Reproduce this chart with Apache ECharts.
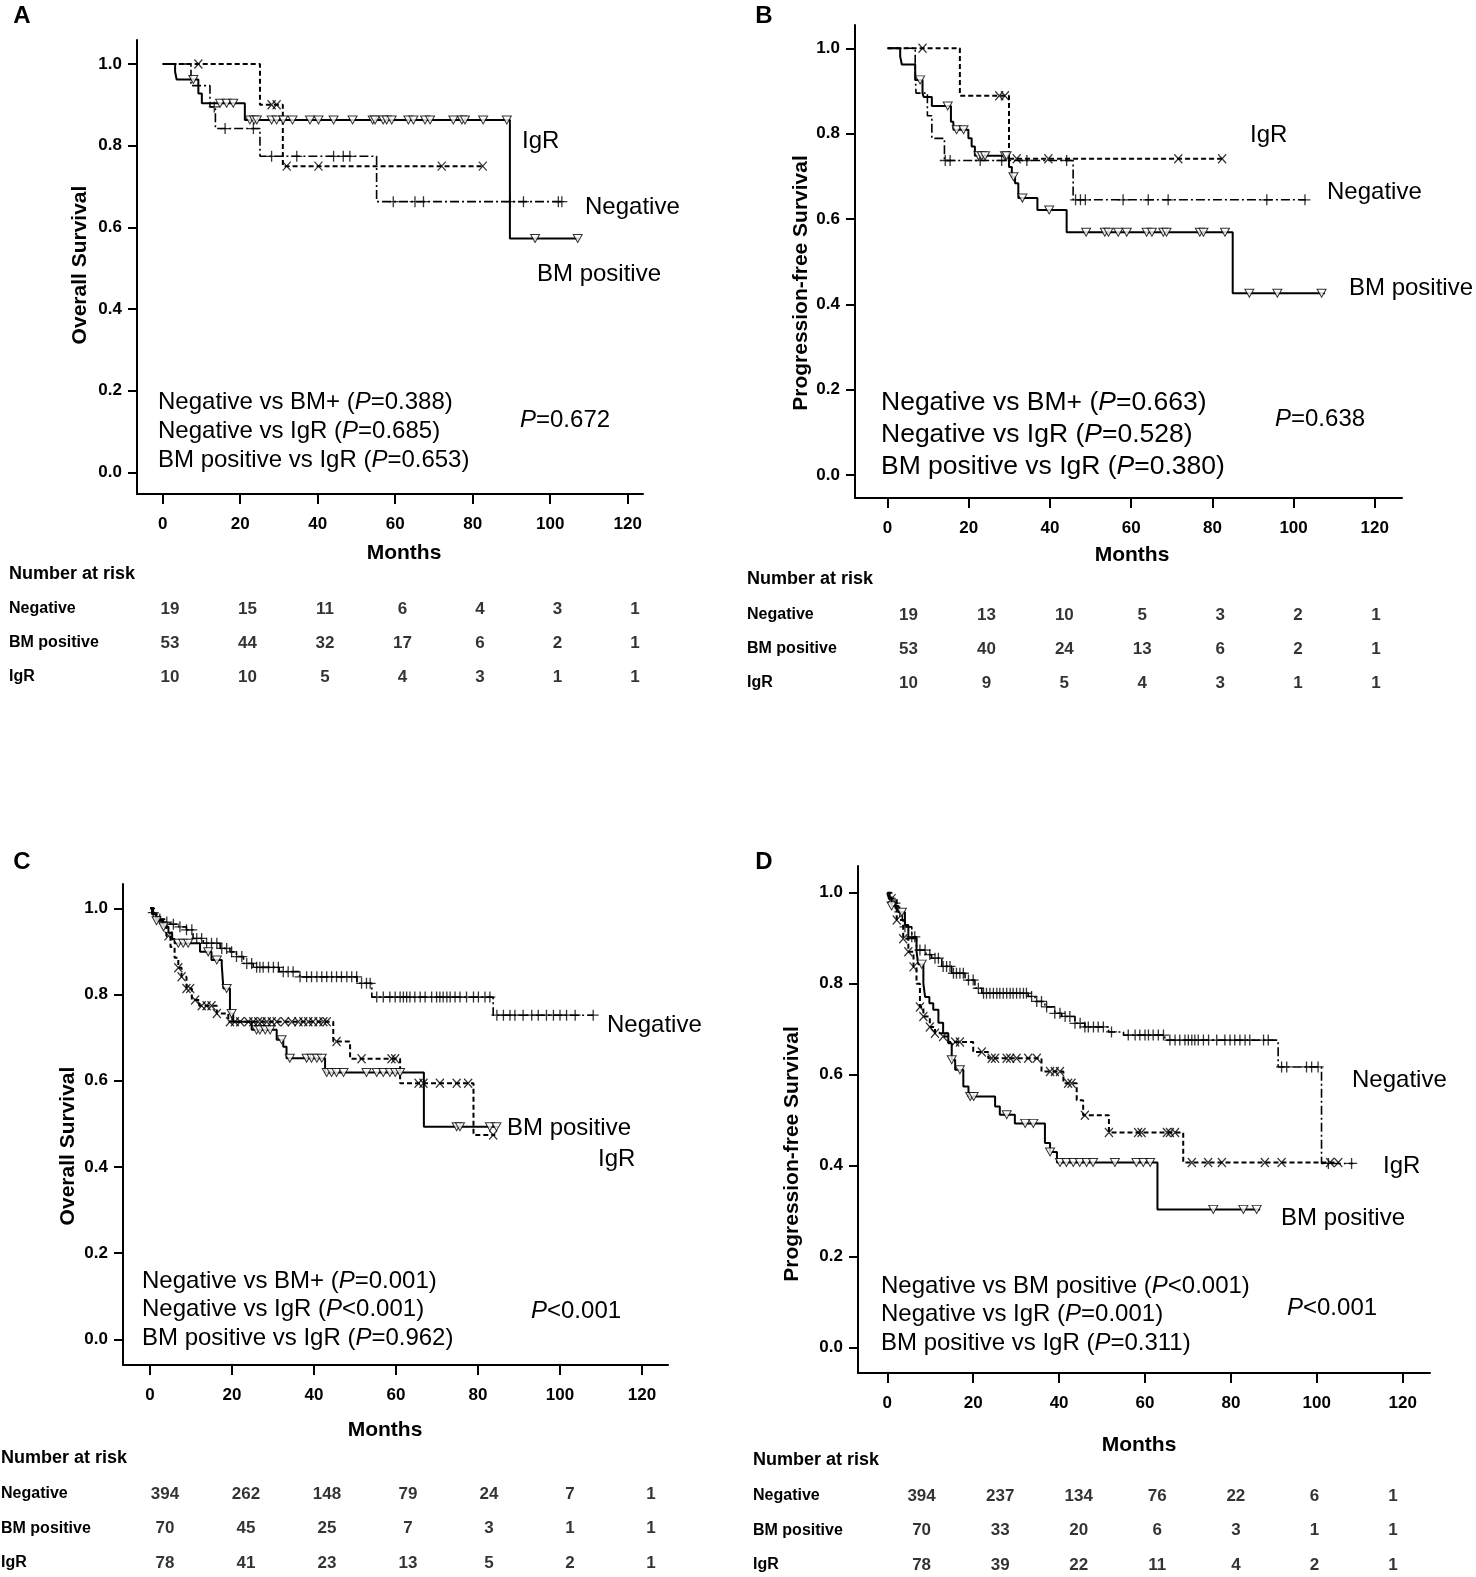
<!DOCTYPE html>
<html><head><meta charset="utf-8">
<script src="https://cdn.jsdelivr.net/npm/echarts@6/dist/echarts.min.js"></script>
<style>html,body{margin:0;padding:0;background:#fff}#c{width:1476px;height:1577px}</style>
</head><body><div id="c"></div>
<script>
// ---------------- DATA ----------------
const GROUPS = ['Negative', 'BM positive', 'IgR'];
const X_TICKS = [0, 20, 40, 60, 80, 100, 120];
const Y_TICKS = [0, 0.2, 0.4, 0.6, 0.8, 1.0];

// Panel A - overall survival (small cohort)
const A_neg_steps = [[0,1],[7.3,0.947],[12.2,0.895],[13.6,0.842],[25.1,0.774],[55.2,0.663],[103,0.663]];
const A_neg_cens = [13.3,16.1,23.4,28.1,34.6,44.1,46.6,48.3,59.5,65.1,67.3,89.6,93.1,102.1,103];
const A_bm_steps = [[0,1],[3.2,0.981],[3.6,0.962],[9.2,0.928],[10.1,0.904],[21.2,0.863],[89.6,0.573],[107.4,0.573]];
const A_bm_cens = [7.9,14.8,16.5,18.2,22.5,23.6,24.3,28.1,29.4,31.1,33.5,38,40.2,44.1,49,54.2,54.8,56.9,57.8,59.1,63.4,64.7,67.7,69,75,77.2,78,82.7,88.8,96.1,107.1];
const A_igr_steps = [[0,1],[25.1,0.9],[31,0.75],[82.8,0.75]];
const A_igr_cens = [9.2,28.1,29.4,32,40.2,72,82.6];
const A_risk_neg = [19,15,11,6,4,3,1];
const A_risk_bm = [53,44,32,17,6,2,1];
const A_risk_igr = [10,10,5,4,3,1,1];
const A_p_texts = ['Negative vs BM+ ({i|P}=0.388)','Negative vs IgR ({i|P}=0.685)','BM positive vs IgR ({i|P}=0.653)'];
const A_p_all = '{i|P}=0.672';

// Panel B - progression-free survival (small cohort)
const B_neg_steps = [[0,1],[6.8,0.947],[7,0.895],[9.8,0.842],[10.9,0.789],[14,0.737],[45.7,0.645],[103,0.645]];
const B_neg_cens = [14.2,15.4,22.8,28.1,34.3,44.1,46.3,47.5,48.7,58,64.2,69.1,93.4,102.8];
const B_bm_steps = [[0,1],[3.1,0.981],[3.5,0.962],[6.8,0.926],[8.6,0.894],[8.9,0.886],[10.9,0.865],[15.6,0.828],[16.2,0.809],[19.9,0.789],[20.7,0.77],[21.5,0.748],[29.9,0.722],[30.6,0.699],[31.4,0.684],[32.2,0.649],[36.9,0.621],[44.1,0.569],[85,0.426],[107.7,0.426]];
const B_bm_cens = [8,14.8,17,18.7,22.4,23.2,24,28.9,29.3,31,33.2,39.8,48.9,53.5,54.4,56.8,58.9,63.8,65.1,67.9,68.7,76.9,77.8,83.1,89.1,96,106.9];
const B_igr_steps = [[0,1],[17.8,0.889],[29.9,0.741],[83.1,0.741]];
const B_igr_cens = [8.6,27.5,28.9,31.8,39.6,71.6,82.4];
const B_risk_neg = [19,13,10,5,3,2,1];
const B_risk_bm = [53,40,24,13,6,2,1];
const B_risk_igr = [10,9,5,4,3,1,1];
const B_p_texts = ['Negative vs BM+ ({i|P}=0.663)','Negative vs IgR ({i|P}=0.528)','BM positive vs IgR ({i|P}=0.380)'];
const B_p_all = '{i|P}=0.638';

// Panel C - overall survival (large cohort)
const C_neg_steps = [[0,1],[0.8,0.99],[1.6,0.982],[2.4,0.975],[3.5,0.968],[4.9,0.963],[7,0.957],[8.9,0.95],[10.5,0.93],[13,0.919],[17.1,0.907],[19.5,0.899],[21.1,0.888],[22.8,0.872],[25.2,0.863],[31.5,0.853],[36.5,0.841],[50.5,0.826],[54.1,0.794],[83.7,0.752],[108.1,0.752]];
const C_neg_cens = [0.8,2.4,4.1,5.7,7.3,8.9,10.2,11.4,12.6,13.8,15,16.3,17.5,18.7,19.9,21.1,22.4,23.6,24.8,26,26.8,27.6,28.9,30.1,31.3,32.5,33.7,34.9,36.6,38.2,39.4,40.7,41.9,43.1,44.3,45.5,46.7,48,49.2,50.4,51.6,52.8,53.7,55.3,56.9,58.5,59.8,61,61.8,62.6,63.4,64.6,65.9,67.1,68.7,69.9,70.7,71.5,72.4,73.2,74.4,75.6,77.2,78.9,80.1,81.7,82.9,84.6,86.2,87.8,89,91,93.1,94.7,96.7,98.4,100,101.6,103.7,108.1];
const C_bm_steps = [[0,1],[0.5,0.986],[1.5,0.971],[3.3,0.957],[4.5,0.943],[5.4,0.929],[6,0.919],[12.2,0.899],[15,0.88],[17.5,0.868],[17.9,0.814],[19.5,0.756],[20.3,0.737],[24.8,0.718],[30.9,0.695],[32.5,0.679],[33.3,0.652],[42.7,0.619],[66.8,0.493],[84.9,0.493]];
const C_bm_cens = [1.6,3.3,6.9,8.1,9.3,14.2,16.3,18.7,19.9,26,26.8,28.1,29.3,32.1,34.1,38.2,39.4,40.7,41.9,43.1,44.3,45.5,47.2,52.8,55.3,56.9,58.5,59.8,61,74.8,75.6,82.9,84.5];
const C_igr_steps = [[0,1],[1,0.987],[2,0.974],[3,0.962],[4,0.936],[5,0.91],[6,0.885],[6.9,0.862],[7.7,0.841],[8.9,0.814],[10.2,0.787],[12,0.774],[16.3,0.756],[19.1,0.737],[44.7,0.691],[48.8,0.651],[61,0.594],[78.9,0.474],[84.2,0.474]];
const C_igr_cens = [4.5,6.9,7.7,8.9,9.8,11,12.6,13.8,15,16.3,19.5,20.7,22,24,25.2,26.4,27.2,28.5,29.7,30.9,32.9,34.6,36.2,37.4,38.6,39.8,41.1,42.3,43.1,45.5,51.6,58.9,59.8,65.5,66.7,70.7,74.8,77.6,83.7];
const C_risk_neg = [394,262,148,79,24,7,1];
const C_risk_bm = [70,45,25,7,3,1,1];
const C_risk_igr = [78,41,23,13,5,2,1];
const C_p_texts = ['Negative vs BM+ ({i|P}=0.001)','Negative vs IgR ({i|P}<0.001)','BM positive vs IgR ({i|P}=0.962)'];
const C_p_all = '{i|P}<0.001';

// Panel D - progression-free survival (large cohort)
const D_neg_steps = [[0,1],[0.6,0.985],[1,0.977],[2,0.965],[2.6,0.958],[3.5,0.94],[4.1,0.925],[5.7,0.903],[6.8,0.874],[9,0.864],[10.3,0.856],[12.7,0.838],[15,0.823],[18.1,0.808],[20.4,0.79],[22,0.779],[32.8,0.772],[34.4,0.761],[36.7,0.749],[39,0.735],[40.6,0.728],[43.7,0.713],[46,0.705],[51.5,0.694],[55,0.687],[64.6,0.676],[91,0.617],[101.1,0.405],[108.5,0.405]];
const D_neg_cens = [1.8,2.9,4.1,5.7,6.4,7.6,8.8,9.9,11.1,11.9,13,13.8,14.6,15.4,16.1,16.9,17.7,18.9,20,21.2,22.4,23.1,23.9,24.7,25.5,26.2,27,27.8,28.6,29.3,30.1,30.9,31.7,32.4,33.6,34.8,35.9,37.1,39,40.2,41.4,42.5,43.7,44.9,46,46.8,48,49.1,50.3,52.2,56.1,57.7,58.8,60,60.8,61.9,63.1,64.3,65.8,67,68.1,69.3,70.1,70.9,71.6,72.4,73.6,74.8,76.7,78.6,79.8,80.9,82.1,83.3,84.4,87.6,88.7,91.8,93,97.6,98.8,100.3,102.7,108.1];
const D_bm_steps = [[0,1],[0.4,0.986],[1,0.971],[2.6,0.957],[4.1,0.929],[4.9,0.9],[6.8,0.871],[7.2,0.843],[8.4,0.8],[8.8,0.771],[9.8,0.757],[10.7,0.743],[11.9,0.714],[13,0.691],[14.2,0.669],[15,0.633],[15.8,0.611],[17.7,0.574],[18.9,0.552],[25.1,0.53],[26.2,0.512],[29.7,0.493],[36.7,0.45],[37.9,0.43],[39.5,0.407],[62.9,0.304],[86.8,0.304]];
const D_bm_cens = [1,3.4,8,15,16.9,19.3,20.1,27.8,32.1,34,37.9,40.2,41.7,43.3,44.8,46.4,47.9,53,58,59.6,61.2,75.9,82.9,86];
const D_igr_steps = [[0,1],[1,0.987],[2.2,0.94],[3.7,0.899],[4.9,0.87],[6.1,0.837],[6.8,0.8],[7.6,0.749],[8.4,0.728],[9.9,0.705],[11.1,0.691],[13,0.684],[14.2,0.672],[20,0.65],[23.5,0.636],[35.9,0.607],[41,0.581],[44.1,0.544],[45.6,0.511],[51.6,0.473],[68.9,0.407],[105,0.407]];
const D_igr_cens = [1,2.2,3.7,4.9,6.1,7.6,8.4,9.9,11.1,13,15.8,16.9,22,24.3,25.1,27.8,28.6,30.1,32.8,34.8,37.9,39,40.2,42.1,42.9,46,51.6,58.4,59.2,65.1,65.8,67,70.9,74.7,77.9,87.9,91.8,103.1,105];
const D_risk_neg = [394,237,134,76,22,6,1];
const D_risk_bm = [70,33,20,6,3,1,1];
const D_risk_igr = [78,39,22,11,4,2,1];
const D_p_texts = ['Negative vs BM positive ({i|P}<0.001)','Negative vs IgR ({i|P}=0.001)','BM positive vs IgR ({i|P}=0.311)'];
const D_p_all = '{i|P}<0.001';

// ---------------- LAYOUT ----------------
const FONT = '"Liberation Sans", Arial, Helvetica, sans-serif';
const NARROW = '"Liberation Sans Narrow", "Arial Narrow", "Liberation Sans", sans-serif';

const PANELS = [
  { key:'A', ytitle:'Overall Survival',
    neg:[A_neg_steps,A_neg_cens], bm:[A_bm_steps,A_bm_cens], igr:[A_igr_steps,A_igr_cens],
    risk:[A_risk_neg,A_risk_bm,A_risk_igr], ptexts:A_p_texts, pall:A_p_all,
    L:{ grid:[137,40,643,494], x0:162.7, xs:3.875, y0:472.5, ys:408.5, letter:[22,16], months:[404,553], yt:[80,265],
        pX:158, pY:[402.5,431.3,460.1], pFont:24, pAll:[520,420],
        lab:{neg:[585,207], bm:[537,274], igr:[522,141]},
        risk:{c0:170,c1:635,r0:609,r1:677,lx:9,hy:574} } },
  { key:'B', ytitle:'Progression-free Survival',
    neg:[B_neg_steps,B_neg_cens], bm:[B_bm_steps,B_bm_cens], igr:[B_igr_steps,B_igr_cens],
    risk:[B_risk_neg,B_risk_bm,B_risk_igr], ptexts:B_p_texts, pall:B_p_all,
    L:{ grid:[855,25,1402,498], x0:887.6, xs:4.06, y0:475, ys:426.7, letter:[764,16], months:[1132,555], yt:[801,283],
        pX:881, pY:[403,435,467], pFont:26.5, pAll:[1275,419],
        lab:{neg:[1327,192], bm:[1349,288], igr:[1250,135]},
        risk:{c0:908.5,c1:1376,r0:615,r1:683,lx:747,hy:579} } },
  { key:'C', ytitle:'Overall Survival',
    neg:[C_neg_steps,C_neg_cens], bm:[C_bm_steps,C_bm_cens], igr:[C_igr_steps,C_igr_cens],
    risk:[C_risk_neg,C_risk_bm,C_risk_igr], ptexts:C_p_texts, pall:C_p_all,
    L:{ grid:[123,884,668,1365], x0:150, xs:4.1, y0:1339.3, ys:431, letter:[22,862], months:[385,1430], yt:[68,1146],
        pX:142, pY:[1281,1309.5,1338.3], pFont:24, pAll:[531,1311],
        lab:{neg:[607,1025], bm:[507,1128], igr:[598,1159]},
        risk:{c0:165,c1:651,r0:1494,r1:1563,lx:1,hy:1458} } },
  { key:'D', ytitle:'Progression-free Survival',
    neg:[D_neg_steps,D_neg_cens], bm:[D_bm_steps,D_bm_cens], igr:[D_igr_steps,D_igr_cens],
    risk:[D_risk_neg,D_risk_bm,D_risk_igr], ptexts:D_p_texts, pall:D_p_all,
    L:{ grid:[858,866,1430,1373], x0:887.3, xs:4.295, y0:1347.7, ys:455, letter:[764,862], months:[1139,1445], yt:[792,1154],
        pX:881, pY:[1286,1314.5,1343.3], pFont:24, pAll:[1287,1308],
        lab:{neg:[1352,1080], bm:[1281,1218], igr:[1383,1166]},
        risk:{c0:921.6,c1:1393,r0:1496,r1:1565,lx:753,hy:1460} } }
];

const STYLE = {
  neg: { line:{color:'#000', width:1.6, type:[9,3,2,3]}, sym:'path://M5,0L5,10M0,5L10,5', size:[11,11], item:{color:'rgba(0,0,0,0)', borderColor:'#000', borderWidth:1.3} },
  bm:  { line:{color:'#000', width:2, type:'solid'}, sym:'path://M0,0L10,0L5,9Z', size:[9,8], item:{color:'#fff', borderColor:'#000', borderWidth:1} },
  igr: { line:{color:'#000', width:2, type:[5,3]}, sym:'path://M0,0L10,10M10,0L0,10', size:[8,9], item:{color:'rgba(0,0,0,0)', borderColor:'#000', borderWidth:1.3} }
};

function stepAt(steps, t) {
  let s = steps[0][1];
  for (const p of steps) { if (p[0] <= t) s = p[1]; else break; }
  return s;
}

function txt(x, y, text, o) {
  o = o || {};
  const fs = o.fs || 24;
  return { type:'text', x:x, y:y, rotation:o.rot || 0, silent:true, z:10,
    style:{ text:text, fill:'#000', fontSize:fs, fontFamily:o.ff || FONT, fontWeight:o.fw || 'normal',
      align:o.align || 'left', verticalAlign:'middle',
      rich:{ i:{ fontStyle:'italic', fontSize:fs, fontFamily:o.ff || FONT } } } };
}

const option = { animation:false, backgroundColor:'#fff', grid:[], xAxis:[], yAxis:[], series:[], graphic:[] };

PANELS.forEach((P, pi) => {
  const L = P.L;
  const [gl, gt, gr, gb] = L.grid;
  const gi = pi * 2;
  option.grid.push({ left:gl, top:gt, width:gr-gl, height:gb-gt, outerBoundsMode:'none' });
  option.xAxis.push({ gridIndex:gi, type:'value', min:(gl-L.x0)/L.xs, max:(gr-L.x0)/L.xs,
    axisLine:{ show:true, onZero:false, lineStyle:{ color:'#000', width:2 } },
    axisTick:{ show:true, length:10, customValues:X_TICKS, lineStyle:{ color:'#000', width:2 } },
    axisLabel:{ customValues:X_TICKS, margin:22, fontSize:17, fontWeight:'bold', fontFamily:NARROW, color:'#000' },
    splitLine:{ show:false } });
  option.yAxis.push({ gridIndex:gi, type:'value', min:(L.y0-gb)/L.ys, max:(L.y0-gt)/L.ys,
    axisLine:{ show:true, onZero:false, lineStyle:{ color:'#000', width:2 } },
    axisTick:{ show:true, length:9, customValues:Y_TICKS, lineStyle:{ color:'#000', width:2 } },
    axisLabel:{ customValues:Y_TICKS, margin:15, fontSize:17, fontWeight:'bold', fontFamily:NARROW, color:'#000',
      formatter:(v) => Number(v).toFixed(1) },
    splitLine:{ show:false } });

  ['neg','bm','igr'].forEach((g) => {
    const [steps, cens] = P[g];
    const S = STYLE[g];
    option.series.push({ type:'line', xAxisIndex:gi, yAxisIndex:gi, data:steps, step:'end', symbol:'none',
      lineStyle:S.line, z:2, silent:true });
    option.series.push({ type:'scatter', xAxisIndex:gi, yAxisIndex:gi,
      data:cens.map((t) => [t, stepAt(steps, t)]), symbol:S.sym, symbolSize:S.size,
      itemStyle:S.item, z:3, silent:true });
  });

  // risk table grid
  const R = L.risk;
  option.grid.push({ left:R.c0, top:R.r0, width:R.c1-R.c0, height:R.r1-R.r0, outerBoundsMode:'none' });
  option.xAxis.push({ gridIndex:gi+1, type:'value', min:0, max:6, show:false });
  option.yAxis.push({ gridIndex:gi+1, type:'category', data:GROUPS, inverse:true, boundaryGap:false,
    axisLine:{ show:false }, axisTick:{ show:false }, splitLine:{ show:false },
    axisLabel:{ align:'left', margin:R.c0 - R.lx, fontSize:16, fontWeight:'bold', fontFamily:FONT, color:'#000' } });
  const rdata = [];
  P.risk.forEach((row, ri) => row.forEach((v, ci) => rdata.push([ci, ri, v])));
  option.series.push({ type:'scatter', xAxisIndex:gi+1, yAxisIndex:gi+1, data:rdata, symbolSize:1,
    itemStyle:{ color:'rgba(0,0,0,0)' }, silent:true,
    label:{ show:true, position:'inside', formatter:(p) => String(p.value[2]), fontSize:17, fontWeight:'bold',
      fontFamily:NARROW, color:'#000' } });

  // texts
  option.graphic.push(txt(L.letter[0], L.letter[1], P.key, { fs:24, fw:'bold', align:'center' }));
  option.graphic.push(txt(L.months[0], L.months[1], 'Months', { fs:21, fw:'bold', align:'center' }));
  option.graphic.push(txt(L.yt[0], L.yt[1], P.ytitle, { fs:21, fw:'bold', align:'center', rot:Math.PI/2 }));
  P.ptexts.forEach((t, k) => option.graphic.push(txt(L.pX, L.pY[k], t, { fs:L.pFont })));
  option.graphic.push(txt(L.pAll[0], L.pAll[1], P.pall, { fs:24 }));
  option.graphic.push(txt(L.lab.neg[0], L.lab.neg[1], GROUPS[0], { fs:24 }));
  option.graphic.push(txt(L.lab.bm[0], L.lab.bm[1], GROUPS[1], { fs:24 }));
  option.graphic.push(txt(L.lab.igr[0], L.lab.igr[1], GROUPS[2], { fs:24 }));
  option.graphic.push(txt(R.lx, R.hy, 'Number at risk', { fs:18, fw:'bold' }));
});

const chart = echarts.init(document.getElementById('c'), null, { renderer:'canvas' });
chart.setOption(option);
</script></body></html>
